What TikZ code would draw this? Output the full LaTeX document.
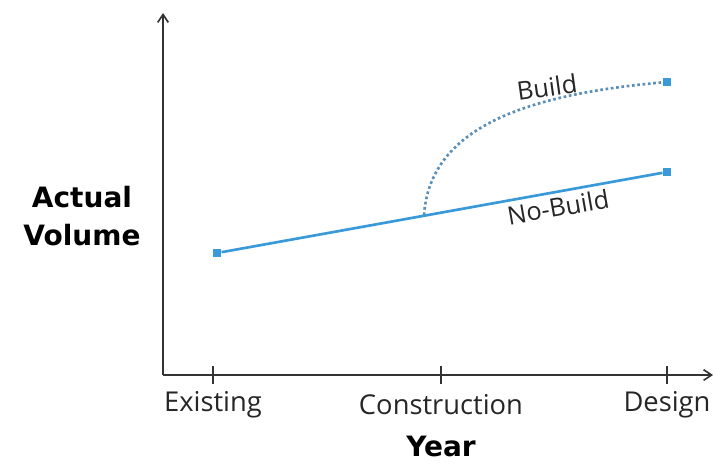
\documentclass[tikz,border=0pt]{standalone}
\usepackage{fontspec}
\setmainfont{Open Sans}
\newfontfamily\boldlabel{DejaVu Sans}
\usetikzlibrary{positioning,arrows.meta}
\definecolor{lineblue}{HTML}{3A9AD9}
\definecolor{dotblue}{HTML}{5A8FB8}
\definecolor{axisgray}{HTML}{333333}
\begin{document}
\begin{tikzpicture}[x=0.75pt,y=-0.75pt,thick,
	marker/.style={fill=lineblue,draw=none,rectangle,minimum size=6pt,inner sep=0pt},
	ticklabel/.style={font=\fontsize{20.5}{24}\selectfont,text=black!85},
	curvelabel/.style={font=\fontsize{19}{22}\selectfont,text=black!85}]

	\useasboundingbox (0,0) rectangle (717,464);

	% axes
	\coordinate (origin) at (163,375);
	\coordinate (ytop) at (163,13);
	\coordinate (xend) at (713,375);
	\draw[axisgray,line width=1.2pt,-{Straight Barb[length=6pt,width=8pt]}] (origin) -- (ytop);
	\draw[axisgray,line width=1.2pt,-{Straight Barb[length=6pt,width=8pt]}] (origin) -- (xend);

	% ticks and labels
	\begin{scope}[every node/.style={ticklabel}]
		\node (t0) at (213,405) {Existing};
		\node (t1) at (441,405) {Construction};
		\node (t2) at (667,405) {Design};
	\end{scope}
	\draw[axisgray,line width=1.2pt] (213,366) -- (213,384);
	\draw[axisgray,line width=1.2pt] (441,366) -- (441,384);
	\draw[axisgray,line width=1.2pt] (667,366) -- (667,384);

	\node[font=\boldlabel\bfseries\fontsize{21}{25}\selectfont] (xlabel) at (441,446) {Year};
	\node[font=\boldlabel\bfseries\fontsize{21}{28.5}\selectfont,align=center] (ylabel) at (82,216) {Actual\\Volume};

	% data points
	\node[marker] (exist) at (217,253) {};
	\node[marker] (nobuild) at (667,172) {};
	\node[marker] (build) at (667,82) {};
	\coordinate (split) at (424,215);

	% curves
	\draw[lineblue,line width=2pt] (exist) -- (nobuild);
	\draw[dotblue,line width=2pt,dotted] (split) .. controls (430,130) and (520,95) .. (build);

	\node[curvelabel,rotate=8] (lbuild) at (547,87) {Build};
	\node[curvelabel,rotate=10] (lnobuild) at (558,207) {No-Build};

\end{tikzpicture}
\end{document}
